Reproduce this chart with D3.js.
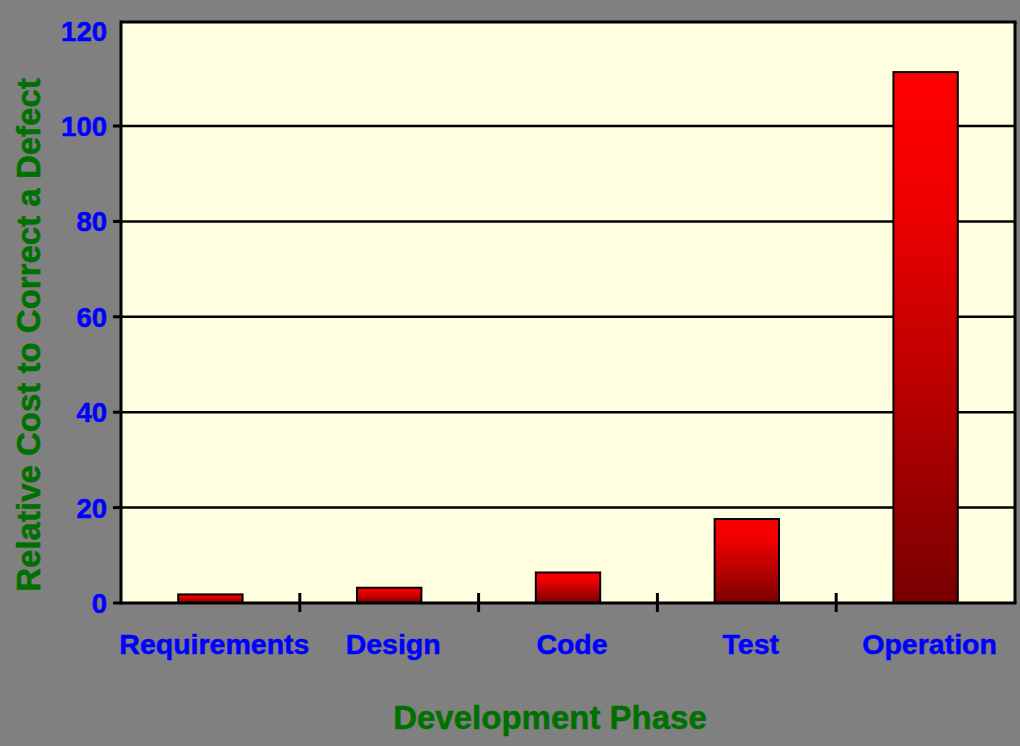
<!DOCTYPE html>
<html>
<head>
<meta charset="utf-8">
<script src="https://cdn.jsdelivr.net/npm/d3@7"></script>
<style>
  html, body { margin: 0; padding: 0; background: #808080; }
  svg { display: block; }
  text { font-family: "Liberation Sans", Arial, sans-serif; font-weight: bold; }
</style>
</head>
<body>
<svg id="chart" width="1020" height="746"></svg>
<script>
const categories = ["Requirements", "Design", "Code", "Test", "Operation"];
const values = [1.8, 3.2, 6.4, 17.6, 111.3];
const yTicks = [0, 20, 40, 60, 80, 100, 120];
const yTitle = "Relative Cost to Correct a Defect";
const xTitle = "Development Phase";

const W = 1020, H = 746;
const L = 121, R = 1015, T = 22, B = 603;

const svg = d3.select("#chart");

const defs = svg.append("defs");
const grad = defs.append("linearGradient")
  .attr("id", "barGrad").attr("x1", 0).attr("y1", 0).attr("x2", 0).attr("y2", 1);
grad.append("stop").attr("offset", "0%").attr("stop-color", "#ff0000");
grad.append("stop").attr("offset", "25%").attr("stop-color", "#f00000");
grad.append("stop").attr("offset", "100%").attr("stop-color", "#780000");

const x = d3.scaleBand().domain(categories).range([L, R]);
const y = d3.scaleLinear().domain([0, 120]).range([B, B - 120 * 4.77]);

// plot background
svg.append("rect").attr("x", L).attr("y", T).attr("width", R - L).attr("height", B - T)
  .attr("fill", "#ffffe0");

// gridlines
svg.append("g").selectAll("line").data(yTicks.filter(d => d > 0 && d < 120)).join("line")
  .attr("x1", L).attr("x2", R).attr("y1", d => y(d)).attr("y2", d => y(d))
  .attr("stroke", "#000").attr("stroke-width", 2.5);

// bars
const bw = x.bandwidth() * 0.36;
svg.append("g").selectAll("rect").data(categories).join("rect")
  .attr("x", d => x(d) + x.bandwidth() / 2 - bw / 2)
  .attr("y", (d, i) => y(values[i]))
  .attr("width", bw)
  .attr("height", (d, i) => y(0) - y(values[i]))
  .attr("fill", "url(#barGrad)")
  .attr("stroke", "#000").attr("stroke-width", 2);

// frame (top, right) and axes
svg.append("line").attr("x1", L).attr("x2", R + 1.5).attr("y1", T).attr("y2", T)
  .attr("stroke", "#000").attr("stroke-width", 3);
svg.append("line").attr("x1", R).attr("x2", R).attr("y1", T).attr("y2", B)
  .attr("stroke", "#000").attr("stroke-width", 3);
svg.append("line").attr("x1", L).attr("x2", L).attr("y1", T - 1.5).attr("y2", B + 1.5)
  .attr("stroke", "#000").attr("stroke-width", 3);
svg.append("line").attr("x1", L).attr("x2", R + 1.5).attr("y1", B).attr("y2", B)
  .attr("stroke", "#000").attr("stroke-width", 3);

// y ticks
svg.append("g").selectAll("line").data(yTicks.filter(d => d < 120)).join("line")
  .attr("x1", L - 8).attr("x2", L).attr("y1", d => y(d)).attr("y2", d => y(d))
  .attr("stroke", "#000").attr("stroke-width", 3);

svg.append("g").selectAll("text").data(yTicks).join("text")
  .attr("x", 107)
  .attr("y", d => Math.max(y(d), T + 3) + 10)
  .attr("text-anchor", "end")
  .attr("font-size", 27.5)
  .attr("fill", "#0000ff")
  .attr("stroke", "#0000ff").attr("stroke-width", 0.5)
  .text(d => d);

// x ticks at band boundaries
svg.append("g").selectAll("line").data(categories.slice(1)).join("line")
  .attr("x1", d => x(d)).attr("x2", d => x(d)).attr("y1", B - 10).attr("y2", B + 9)
  .attr("stroke", "#000").attr("stroke-width", 3);

svg.append("g").selectAll("text").data(categories).join("text")
  .attr("x", d => x(d) + x.bandwidth() / 2 + 4)
  .attr("y", 654)
  .attr("text-anchor", "middle")
  .attr("font-size", 28.5)
  .attr("fill", "#0000ff")
  .attr("stroke", "#0000ff").attr("stroke-width", 0.5)
  .text(d => d);

// axis titles
svg.append("text")
  .attr("transform", "translate(40,335) rotate(-90)")
  .attr("text-anchor", "middle")
  .attr("font-size", 33)
  .attr("fill", "#007000")
  .attr("stroke", "#007000").attr("stroke-width", 0.5)
  .text(yTitle);

svg.append("text")
  .attr("x", 550).attr("y", 729)
  .attr("text-anchor", "middle")
  .attr("font-size", 33)
  .attr("fill", "#007000")
  .attr("stroke", "#007000").attr("stroke-width", 0.5)
  .text(xTitle);
</script>
</body>
</html>
